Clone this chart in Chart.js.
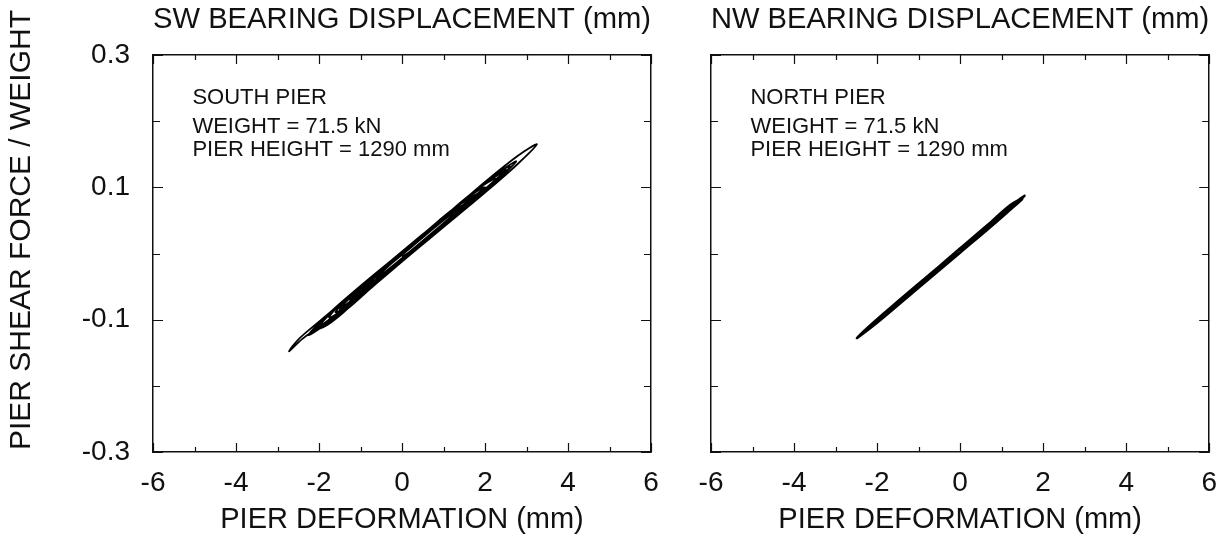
<!DOCTYPE html>
<html>
<head>
<meta charset="UTF-8">
<title>Pier shear force vs deformation</title>
<script src="https://cdn.jsdelivr.net/npm/chart.js"></script>
<style>
    body { margin: 0; background: #fff; }
    .wrap { position: relative; width: 1231px; height: 539px; }
    .panel { position: absolute; top: 0; height: 539px; }
    #left { left: 0; width: 680px; }
    #right { left: 680px; width: 551px; }
</style>
</head>
<body>
<div class="wrap">
    <div class="panel" id="left"><canvas id="southChart"></canvas></div>
    <div class="panel" id="right"><canvas id="northChart"></canvas></div>
</div>
<script>
// south pier loops (deformation mm, shear / weight)
const southX = [0, 0.5, 1.0, 1.2, 0.9, 0.3, -0.3, -0.9, -0.5, 0, 0.6, 1.2, 1.8, 2.0,
    1.5, 1.0, 0.3, -0.5, -1.2, -1.6, -1.0, -0.3, 0.5, 1.2, 2.0, 2.6,
    2.2, 1.5, 0.6, -0.3, -1.2, -2.1, -1.8, -1.3, -0.6, 0, 1.0, 2.0, 2.8, 3.25,
    2.8, 2.0, 1.0, 0, -1.0, -2.0, -2.5, -2.72, -2.4, -1.8, -1.0, 0, 0.9, 1.8,
    1.3, 0.5, -0.3, -1.2, -0.6, 0.2, 1.0, 1.5, 1.0, 0.3, -0.6, 0, 0.8, 1.4, 0.7, 0,
    -0.75, -1.5, -1.75, -1.25, -0.5, 0.25, 1.0, 1.75, 2.25, 1.75, 1.0, 0.25, -0.5, -1.25, -2.0,
    -1.5, -0.75, 0, 0.75, 1.5, 2.5, 2.0, 1.25, 0.5, -0.25, -1.0, -1.5,
    -1.0, -0.25, 0.5, 1.25, 1.75, 1.25, 0.5, -0.25, -1.0, -1.75, -2.25,
    -1.75, -1.0, -0.25, 0.5, 1.25, 2.0, 2.75, 2.25, 1.5, 0.75, 0, -0.75, -1.25,
    -0.5, 0.25, 1.0, 1.5, 1.0, 0.25, -0.5, -1.0, 0, 1.0, 2.0, 1.0, 0];
const southY = [-0.005, 0.016, 0.042, 0.058, 0.048, 0.017, -0.014, -0.052, -0.037, -0.011, 0.020, 0.052, 0.084, 0.100,
    0.081, 0.054, 0.018, -0.024, -0.061, -0.089, -0.064, -0.027, 0.015, 0.052, 0.093, 0.131,
    0.118, 0.081, 0.033, -0.014, -0.061, -0.115, -0.108, -0.083, -0.044, -0.012, 0.040, 0.092, 0.136, 0.165,
    0.148, 0.108, 0.054, 0.002, -0.050, -0.103, -0.130, -0.148, -0.129, -0.102, -0.063, -0.010, 0.037, 0.089,
    0.070, 0.027, -0.015, -0.068, -0.041, 0.001, 0.044, 0.074, 0.053, 0.016, -0.036, -0.008, 0.034, 0.068, 0.037, -0.002,
    -0.038, -0.077, -0.097, -0.078, -0.039, 0.001, 0.040, 0.080, 0.113, 0.094, 0.055, 0.015, -0.024, -0.063, -0.110,
    -0.088, -0.048, -0.009, 0.030, 0.070, 0.126, 0.105, 0.066, 0.026, -0.013, -0.052, -0.084,
    -0.060, -0.021, 0.018, 0.058, 0.087, 0.068, 0.029, -0.010, -0.049, -0.090, -0.123,
    -0.103, -0.063, -0.024, 0.015, 0.054, 0.094, 0.139, 0.119, 0.080, 0.040, 0.001, -0.038, -0.070,
    -0.033, 0.006, 0.045, 0.074, 0.050, 0.011, -0.028, -0.057, -0.007, 0.046, 0.099, 0.050, -0.002];

// north pier loops
const northX = [0, 0.8, 1.2, 0.5, -0.5, -1.3, -0.5, 0.5, 1.55, 1.0, 0, -1.0, -2.0, -2.49,
    -2.0, -1.0, 0, 0.9, 1.4, 0.8, -0.2, -1.2, -1.9, -1.0, 0, 1.0, 1.5,
    1.2, 0.5, -0.6, -1.6, -0.8, 0.3, 1.1,
    0.5, -0.5, -1.5, -2.25, -1.5, -0.5, 0.5, 1.25, 0.5, -0.5, -1.0,
    0, 1.0, 1.5, 1.0, 0, -1.0, -2.0, -1.0, 0, 0.5];
const northY = [0.004, 0.044, 0.066, 0.034, -0.019, -0.063, -0.025, 0.028, 0.087, 0.061, 0.008, -0.046, -0.099, -0.128,
    -0.105, -0.052, 0.001, 0.049, 0.078, 0.050, -0.003, -0.056, -0.094, -0.051, 0.002, 0.055, 0.083,
    0.073, 0.034, -0.025, -0.078, -0.041, 0.018, 0.060,
    0.034, -0.019, -0.072, -0.115, -0.078, -0.025, 0.028, 0.068, 0.033, -0.020, -0.046,
    0.002, 0.055, 0.082, 0.060, 0.007, -0.046, -0.099, -0.051, 0.002, 0.029];

const xLabels = [-6, -4, -2, 0, 2, 4, 6];
const yLabels = [0.3, 0.1, -0.1, -0.3];
const southNotes = ['SOUTH PIER', 'WEIGHT = 71.5 kN', 'PIER HEIGHT = 1290 mm'];
const northNotes = ['NORTH PIER', 'WEIGHT = 71.5 kN', 'PIER HEIGHT = 1290 mm'];
const yTitle = 'PIER SHEAR FORCE / WEIGHT';

const FONT = "'Liberation Sans', Arial, Helvetica, sans-serif";
const INK = '#111';

function points(xs, ys) {
    return xs.map((x, i) => ({ x: x, y: ys[i] }));
}

// tick marks pointing into the plot on all four sides
const innerTicks = {
    id: 'innerTicks',
    afterDraw(chart) {
        const { ctx, chartArea: a, scales } = chart;
        ctx.save();
        ctx.strokeStyle = INK;
        ctx.lineWidth = 1.2;
        ctx.beginPath();
        scales.x.ticks.forEach(t => {
            const px = Math.round(scales.x.getPixelForValue(t.value)) + 0.5;
            const len = xLabels.includes(Math.round(t.value)) ? 9 : 5;
            ctx.moveTo(px, a.bottom); ctx.lineTo(px, a.bottom - len);
            ctx.moveTo(px, a.top); ctx.lineTo(px, a.top + len);
        });
        scales.y.ticks.forEach(t => {
            const py = Math.round(scales.y.getPixelForValue(t.value)) + 0.5;
            const v = Math.round(t.value * 10) / 10;
            const len = yLabels.includes(v) ? 10 : 7;
            ctx.moveTo(a.left, py); ctx.lineTo(a.left + len, py);
            ctx.moveTo(a.right, py); ctx.lineTo(a.right - len, py);
        });
        ctx.stroke();
        ctx.restore();
    }
};

// text block inside the plot (data units) and the side title
const notes = {
    id: 'notes',
    afterDraw(chart, args, opts) {
        const { ctx, scales } = chart;
        ctx.save();
        ctx.fillStyle = INK;
        ctx.textBaseline = 'middle';
        ctx.font = '22px ' + FONT;
        opts.lines.forEach((line, i) => {
            ctx.fillText(line, scales.x.getPixelForValue(opts.x), scales.y.getPixelForValue(opts.y[i]));
        });
        if (opts.sideTitle) {
            ctx.translate(22, 230);
            ctx.rotate(-Math.PI / 2);
            ctx.textAlign = 'center';
            ctx.font = '30px ' + FONT;
            ctx.fillText(opts.sideTitle, 0, 0);
        }
        ctx.restore();
    }
};

function makeChart(id, data, topTitle, noteLines, sizes) {
    const border = { display: true, color: INK, width: 1.5 };
    new Chart(document.getElementById(id), {
        type: 'scatter',
        data: {
            datasets: [{
                data: data,
                showLine: true,
                borderColor: '#000',
                borderWidth: sizes.lineWidth,
                tension: 0.35,
                pointRadius: 0
            }]
        },
        options: {
            responsive: true,
            maintainAspectRatio: false,
            animation: false,
            layout: { padding: 0 },
            plugins: {
                legend: { display: false },
                tooltip: { enabled: false },
                notes: { lines: noteLines, x: -5.05, y: [0.235, 0.192, 0.157], sideTitle: sizes.sideTitle }
            },
            scales: {
                x: {
                    type: 'linear', position: 'bottom', min: -6, max: 6,
                    grid: { display: false, drawTicks: false },
                    border: border,
                    afterFit: s => { s.height = 87; },
                    ticks: {
                        stepSize: 1, padding: 14, color: INK, maxRotation: 0, autoSkip: false,
                        font: { family: FONT, size: 28 },
                        callback: v => xLabels.includes(v) ? String(v) : ''
                    },
                    title: {
                        display: true, text: 'PIER DEFORMATION (mm)', color: INK,
                        font: { family: FONT, size: 29 }, padding: { top: 0, bottom: 2 }
                    }
                },
                xTop: {
                    type: 'linear', position: 'top', min: -6, max: 6,
                    grid: { display: false, drawTicks: false },
                    border: border,
                    afterFit: s => { s.height = 55; },
                    ticks: { display: false },
                    title: {
                        display: true, text: topTitle, color: INK,
                        font: { family: FONT, size: 29.5 }, padding: { top: 2, bottom: 0 }
                    }
                },
                y: {
                    type: 'linear', position: 'left', min: -0.3, max: 0.3,
                    grid: { display: false, drawTicks: false },
                    border: border,
                    afterFit: s => { s.width = sizes.left; },
                    ticks: {
                        display: !!sizes.sideTitle, stepSize: 0.1, padding: 23, color: INK,
                        font: { family: FONT, size: 28 },
                        callback: v => {
                            const r = Math.round(v * 10) / 10;
                            return yLabels.includes(r) ? r.toFixed(1) : '';
                        }
                    }
                },
                yRight: {
                    type: 'linear', position: 'right', min: -0.3, max: 0.3,
                    grid: { display: false, drawTicks: false },
                    border: border,
                    afterFit: s => { s.width = sizes.right; },
                    ticks: { display: false }
                }
            }
        },
        plugins: [innerTicks, notes]
    });
}

makeChart('southChart', points(southX, southY), 'SW BEARING DISPLACEMENT (mm)', southNotes,
    { left: 153, right: 29, lineWidth: 1.8, sideTitle: yTitle });
makeChart('northChart', points(northX, northY), 'NW BEARING DISPLACEMENT (mm)', northNotes,
    { left: 31, right: 21, lineWidth: 2.2, sideTitle: null });
</script>
</body>
</html>
